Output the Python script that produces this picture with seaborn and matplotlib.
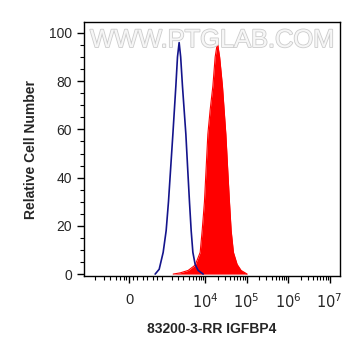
import numpy as np
import pandas as pd
import matplotlib
matplotlib.use('Agg')
import matplotlib.pyplot as plt
import matplotlib.patheffects as pe
import seaborn as sns

# x in display decades (10^4 -> 4.0), y = relative cell number
control_x = [2.795, 2.892, 2.988, 3.060, 3.116, 3.169, 3.222, 3.258, 3.294, 3.333, 3.373,
             3.410, 3.453, 3.494, 3.535, 3.578, 3.622, 3.663, 3.704, 3.759, 3.831, 3.952]
control_y = [0, 2, 9, 18, 30, 44, 58, 68, 78, 90, 96,
             90, 78, 68, 58, 44, 30, 18, 9, 4, 1.5, 0]

stained_x = [3.229, 3.398, 3.590, 3.759, 3.880, 3.928, 3.983, 4.024, 4.065, 4.120, 4.186, 4.241,
             4.296, 4.349, 4.417, 4.458, 4.499, 4.542, 4.586, 4.627, 4.682, 4.771, 4.867, 5.012]
stained_y = [0, 0.5, 1.5, 3.7, 9, 18, 30, 44, 58, 68, 78, 90,
             96, 90, 78, 68, 58, 44, 30, 18, 9, 4, 1.5, 0]

tick_pos = [2.17, 4.0, 5.0, 6.0, 7.0]
tick_labels = ['0', '$10^4$', '$10^5$', '$10^6$', '$10^7$']

sns.set_style('white')
plt.rcParams['font.family'] = ['Liberation Sans', 'DejaVu Sans']

fig = plt.figure(figsize=(3.61, 3.56), dpi=100)
ax = fig.add_axes([0.2327, 0.2247, 0.7091, 0.7133])

stained = pd.DataFrame({'x': stained_x, 'y': stained_y})
control = pd.DataFrame({'x': control_x, 'y': control_y})

ax.fill_between(stained['x'], stained['y'], 0, color='#ff0000', linewidth=0)
sns.lineplot(data=stained, x='x', y='y', color='#ff0000', linewidth=0.8, ax=ax)
sns.lineplot(data=control, x='x', y='y', color='#14148c', linewidth=1.2, ax=ax)

ax.set_xlim(1.08, 7.25)
ax.set_ylim(-0.8, 104.5)

ax.set_xticks(tick_pos)
ax.set_xticklabels(tick_labels, fontsize=10.5)
minor_x = [1.34, 1.55, 1.7, 1.85, 1.95, 2.05, 2.1, 2.25, 2.35, 2.5, 2.6, 2.75, 2.85, 2.95, 3.2, 3.35]
for d in [3, 4, 5, 6]:
    for k in range(2, 10):
        p = d + np.log10(k)
        if p > 3.4:
            minor_x.append(p)
ax.set_xticks(minor_x, minor=True)
ax.set_yticks([0, 20, 40, 60, 80, 100])
ax.set_yticklabels(['0', '20', '40', '60', '80', '100'], fontsize=10)
ax.set_yticks(np.arange(0, 105, 5), minor=True)

ax.tick_params(axis='both', which='major', direction='out', length=5, width=1, color='black', bottom=True, left=True)
ax.tick_params(axis='both', which='minor', direction='out', length=3, width=0.8, color='black', bottom=True, left=True)
ax.tick_params(axis='x', which='major', pad=7)

for s in ax.spines.values():
    s.set_color('black')
    s.set_linewidth(1)

ax.set_xlabel('83200-3-RR IGFBP4', fontsize=10, fontweight='bold', labelpad=8)
ax.set_ylabel('Relative Cell Number', fontsize=10, fontweight='bold', labelpad=8)

ax.text(0.5, 0.929, 'WWW.PTGLAB.COM', transform=ax.transAxes, ha='center', va='center',
        fontsize=18.3, color='#f6f6f6',
        path_effects=[pe.withStroke(linewidth=1.2, foreground='#cccccc')])

fig.savefig('out.png', dpi=100)
plt.close(fig)
